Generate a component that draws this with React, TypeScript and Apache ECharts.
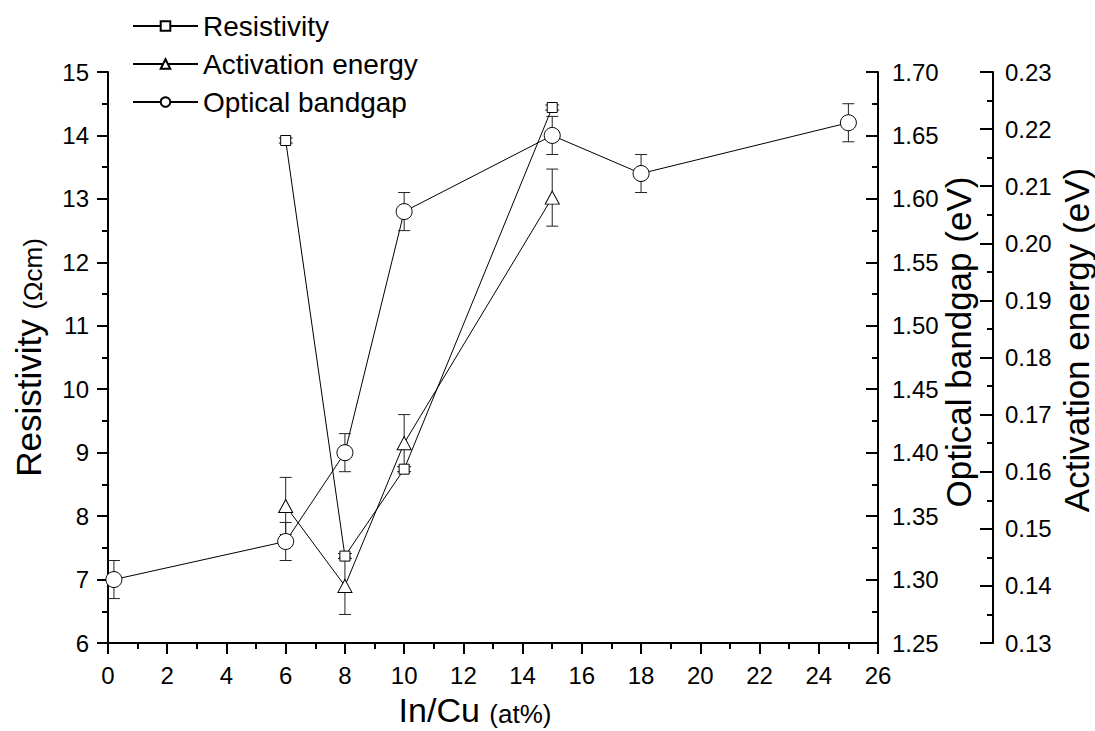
import React, { useEffect, useRef } from "react";
import * as echarts from "echarts";

// In/Cu ratio (at%) for each measured sample
const resX = [6, 8, 10, 15];
const resistivity = [13.92, 7.37, 8.74, 14.44]; // Ω·cm
const resErr = [0.04, 0.04, 0.04, 0.04];

const actX = [6, 8, 10, 15];
const activation = [0.154, 0.14, 0.165, 0.208]; // eV
const actErr = [0.005, 0.005, 0.005, 0.005];

const optX = [0.2, 6, 8, 10, 15, 18, 25];
const optical = [1.3, 1.33, 1.4, 1.59, 1.65, 1.62, 1.66]; // eV
const optErr = [0.015, 0.015, 0.015, 0.015, 0.015, 0.015, 0.015];

const legendNames = ["Resistivity", "Activation energy", "Optical bandgap"];
const opticalTitle = "Optical bandgap (eV)";
const activationTitle = "Activation energy (eV)";

const FONT = '"Liberation Sans", Arial, Helvetica, sans-serif';
const INK = "#000";

function zip(xs: number[], ys: number[]) {
  return xs.map((x, i) => [x, ys[i]]);
}
function zip3(xs: number[], ys: number[], es: number[]) {
  return xs.map((x, i) => [x, ys[i], es[i]]);
}

// Vertical error bar with caps, drawn under the markers
function errorBars(yAxisIndex: number, data: number[][], halfCap: number) {
  return {
    type: "custom",
    yAxisIndex,
    z: 1,
    silent: true,
    data,
    encode: { x: 0, y: 1 },
    renderItem: (_params: any, api: any) => {
      const x = api.value(0);
      const y = api.value(1);
      const e = api.value(2);
      const top = api.coord([x, y + e]);
      const bot = api.coord([x, y - e]);
      const style = { stroke: "#222", lineWidth: 1 };
      return {
        type: "group",
        children: [
          { type: "line", shape: { x1: top[0], y1: top[1], x2: bot[0], y2: bot[1] }, style },
          { type: "line", shape: { x1: top[0] - halfCap, y1: top[1], x2: top[0] + halfCap, y2: top[1] }, style },
          { type: "line", shape: { x1: bot[0] - halfCap, y1: bot[1], x2: bot[0] + halfCap, y2: bot[1] }, style },
        ],
      };
    },
  };
}

function lineSeries(name: string, yAxisIndex: number, data: number[][], symbol: string, symbolSize: any) {
  return {
    type: "line",
    name,
    yAxisIndex,
    z: 3,
    data,
    symbol,
    symbolSize,
    showAllSymbol: true,
    lineStyle: { color: INK, width: 1 },
    itemStyle: { color: "#fff", borderColor: INK, borderWidth: 1 },
    emphasis: { disabled: true },
  };
}

// Rotated title beside a right-hand axis
function sideTitle(text: string, x: number, y: number) {
  return {
    type: "text",
    x,
    y,
    rotation: Math.PI / 2,
    silent: true,
    style: {
      text,
      fontSize: 35,
      fontFamily: FONT,
      fill: INK,
      align: "center",
      verticalAlign: "middle",
    },
  };
}

const axisCommon = {
  axisLine: { show: true, lineStyle: { color: INK, width: 2 } },
  axisTick: { show: true, lineStyle: { color: INK, width: 2 } },
  minorTick: { show: true, splitNumber: 2, lineStyle: { color: INK, width: 2 } },
  splitLine: { show: false },
  minorSplitLine: { show: false },
};

const tickLabel = { fontSize: 24, color: INK, fontFamily: FONT };

export default function App() {
  const ref = useRef<HTMLDivElement>(null);

  useEffect(() => {
    if (!ref.current) return;
    const chart = echarts.init(ref.current, undefined, { renderer: "svg" });
    chart.setOption({
      animation: false,
      backgroundColor: "#fff",
      textStyle: { fontFamily: FONT, color: INK },
      grid: { left: 108, right: 217, top: 72, bottom: 88, containLabel: false, outerBoundsMode: "none" },
      legend: {
        data: legendNames,
        orient: "vertical",
        left: 127,
        top: 7,
        itemWidth: 65,
        itemHeight: 12,
        itemGap: 10,
        selectedMode: false,
        textStyle: { fontSize: 28, fontFamily: FONT, color: INK },
      },
      graphic: [sideTitle(opticalTitle, 958, 342), sideTitle(activationTitle, 1076, 340)],
      xAxis: {
        type: "value",
        min: 0,
        max: 26,
        interval: 2,
        ...axisCommon,
        axisTick: { ...axisCommon.axisTick, length: 11 },
        minorTick: { ...axisCommon.minorTick, length: 6 },
        axisLabel: { ...tickLabel, margin: 20 },
        name: "{a|In/Cu }{b|(at%)}",
        nameLocation: "middle",
        nameGap: 50,
        nameTextStyle: {
          padding: [0, 36, 0, 0],
          rich: {
            a: { fontSize: 34, fontFamily: FONT, color: INK, verticalAlign: "bottom" },
            b: { fontSize: 26, fontFamily: FONT, color: INK, verticalAlign: "bottom" },
          },
        },
      },
      yAxis: [
        {
          type: "value",
          position: "left",
          min: 6,
          max: 15,
          interval: 1,
          ...axisCommon,
          axisTick: { ...axisCommon.axisTick, length: 11 },
          minorTick: { ...axisCommon.minorTick, length: 6 },
          axisLabel: { ...tickLabel, margin: 19 },
          name: "{a|Resistivity }{b|(Ωcm)}",
          nameLocation: "middle",
          nameGap: 62,
          nameTextStyle: {
            rich: {
              a: { fontSize: 35, fontFamily: FONT, color: INK, verticalAlign: "bottom" },
              b: { fontSize: 26, fontFamily: FONT, color: INK, verticalAlign: "bottom" },
            },
          },
        },
        {
          type: "value",
          position: "right",
          min: 1.25,
          max: 1.7,
          interval: 0.05,
          ...axisCommon,
          axisTick: { ...axisCommon.axisTick, inside: true, length: 12 },
          minorTick: { ...axisCommon.minorTick, length: 6 },
          axisLabel: { ...tickLabel, margin: 14, formatter: (v: number) => v.toFixed(2) },
        },
        {
          type: "value",
          position: "right",
          offset: 115,
          min: 0.13,
          max: 0.23,
          interval: 0.01,
          ...axisCommon,
          axisTick: { ...axisCommon.axisTick, inside: true, length: 13 },
          minorTick: { ...axisCommon.minorTick, length: 6 },
          axisLabel: { ...tickLabel, margin: 12, formatter: (v: number) => v.toFixed(2) },
        },
      ],
      series: [
        errorBars(0, zip3(resX, resistivity, resErr), 7),
        errorBars(2, zip3(actX, activation, actErr), 6),
        errorBars(1, zip3(optX, optical, optErr), 6),
        lineSeries(legendNames[0], 0, zip(resX, resistivity), "rect", 10),
        lineSeries(legendNames[1], 2, zip(actX, activation), "triangle", [14, 13]),
        lineSeries(legendNames[2], 1, zip(optX, optical), "circle", 16),
      ],
    });
    return () => chart.dispose();
  }, []);

  return (
    <div
      ref={ref}
      style={{ position: "absolute", left: 0, top: 0, width: 1095, height: 731, background: "#fff" }}
    />
  );
}
